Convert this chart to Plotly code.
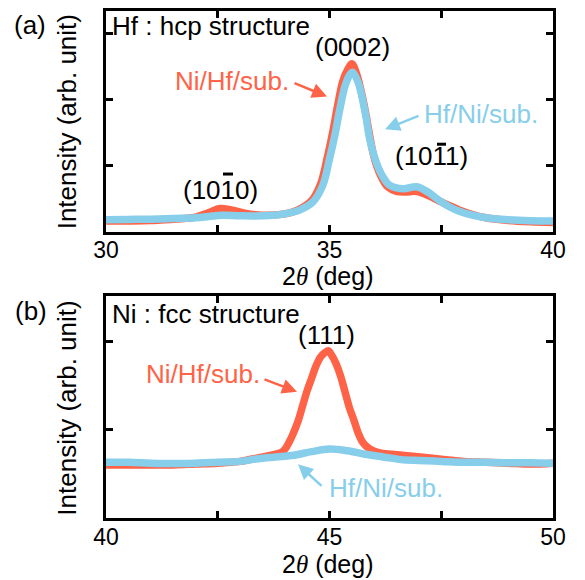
import plotly.graph_objects as go

# ---- Panel (a): Hf hcp reflections, 2theta = 30-40 deg ----
tth_a_nihf = [30.0, 31.0, 32.0, 32.3, 32.55, 32.8, 33.1, 33.5, 34.0, 34.3, 34.6, 34.8,
              34.95, 35.07, 35.18, 35.3, 35.42, 35.5, 35.6, 35.7, 35.8, 35.9, 36.0,
              36.15, 36.3, 36.5, 36.7, 36.9, 37.1, 37.3, 37.5, 37.7, 37.9, 38.2, 38.5,
              39.0, 39.5, 40.0]
int_a_nihf = [0.16, 0.17, 0.22, 0.29, 0.35, 0.33, 0.28, 0.25, 0.27, 0.33, 0.47, 0.72,
              1.12, 1.50, 1.90, 2.28, 2.47, 2.54, 2.40, 2.15, 1.83, 1.45, 1.12,
              0.84, 0.68, 0.61, 0.60, 0.61, 0.58, 0.52, 0.45, 0.39, 0.33, 0.26, 0.21,
              0.17, 0.15, 0.14]

tth_a_hfni = [30.0, 30.5, 31.0, 31.5, 32.0, 32.3, 32.6, 33.0, 33.5, 34.0, 34.34, 34.63,
              34.85, 35.0, 35.12, 35.23, 35.35, 35.46, 35.52, 35.64, 35.8, 35.9, 36.02,
              36.17, 36.35, 36.65, 36.95, 37.2, 37.5, 37.7, 37.9, 38.2, 38.5, 39.0,
              39.5, 40.0]
int_a_hfni = [0.18, 0.185, 0.19, 0.20, 0.21, 0.23, 0.25, 0.24, 0.24, 0.27, 0.33, 0.45,
              0.70, 1.10, 1.46, 1.85, 2.21, 2.38, 2.41, 2.26, 1.80, 1.40, 1.10,
              0.86, 0.70, 0.65, 0.68, 0.60, 0.45, 0.37, 0.31, 0.25, 0.21, 0.18,
              0.165, 0.16]

# ---- Panel (b): Ni fcc (111) reflection, 2theta = 40-50 deg ----
tth_b_nihf = [40.0, 40.5, 41.0, 41.5, 42.0, 42.5, 43.0, 43.4, 43.7, 43.95, 44.1, 44.2,
              44.3, 44.4, 44.5, 44.6, 44.7, 44.8, 44.9, 44.97, 45.05, 45.15, 45.25,
              45.35, 45.45, 45.55, 45.65, 45.75, 45.9, 46.1, 46.4, 46.8, 47.2, 47.6,
              48.0, 48.5, 49.0, 49.5, 50.0]
int_b_nihf = [0.60, 0.60, 0.60, 0.60, 0.61, 0.62, 0.64, 0.68, 0.71, 0.75, 0.86, 0.97,
              1.10, 1.27, 1.44, 1.58, 1.72, 1.82, 1.87, 1.89, 1.84, 1.74, 1.60,
              1.42, 1.24, 1.10, 0.95, 0.85, 0.78, 0.74, 0.72, 0.70, 0.68, 0.66,
              0.64, 0.63, 0.62, 0.61, 0.62]

tth_b_hfni = [40.0, 40.5, 41.0, 41.5, 42.0, 42.5, 43.0, 43.4, 43.8, 44.2, 44.6, 45.0,
              45.4, 45.8, 46.2, 46.6, 47.0, 47.5, 48.0, 48.5, 49.0, 49.5, 50.0]
int_b_hfni = [0.63, 0.63, 0.62, 0.615, 0.62, 0.63, 0.64, 0.67, 0.69, 0.71, 0.75, 0.78,
              0.76, 0.72, 0.69, 0.66, 0.65, 0.64, 0.63, 0.63, 0.625, 0.625, 0.62]

# axis ticks
xticks_a = [30, 32.5, 35, 37.5, 40]
xlabels_a = ["30", "", "35", "", "40"]
xticks_b = [40, 42.5, 45, 47.5, 50]
xlabels_b = ["40", "", "45", "", "50"]
yticks_a = [1, 2, 3]
yticks_b = [1, 2]

RED = "#FF6347"
BLUE = "#87CEEB"
FONT = "Liberation Sans, Arial, sans-serif"

W, H = 585, 580
ML, MR, MT, MB = 106, 32, 8, 62
PW, PH = W - ML - MR, H - MT - MB


def px(x):
    return (x - ML) / PW


def py(y):
    return (H - MB - y) / PH


fig = go.Figure()
line_w = 7.5
fig.add_trace(go.Scatter(x=tth_a_nihf, y=int_a_nihf, mode="lines",
                         line=dict(color=RED, width=line_w, shape="spline"),
                         xaxis="x", yaxis="y", showlegend=False))
fig.add_trace(go.Scatter(x=tth_a_hfni, y=int_a_hfni, mode="lines",
                         line=dict(color=BLUE, width=line_w, shape="spline"),
                         xaxis="x", yaxis="y", showlegend=False))
fig.add_trace(go.Scatter(x=tth_b_nihf, y=int_b_nihf, mode="lines",
                         line=dict(color=RED, width=line_w, shape="spline"),
                         xaxis="x2", yaxis="y2", showlegend=False))
fig.add_trace(go.Scatter(x=tth_b_hfni, y=int_b_hfni, mode="lines",
                         line=dict(color=BLUE, width=line_w, shape="spline"),
                         xaxis="x2", yaxis="y2", showlegend=False))

axis_common = dict(showline=True, linecolor="black", linewidth=3, mirror="ticks",
                   ticks="inside", ticklen=7, tickwidth=2.5, tickcolor="black",
                   showgrid=False, zeroline=False,
                   tickfont=dict(family=FONT, size=23, color="black"))

dom_a = [py(230), 1.0]
dom_b = [0.0, py(295)]

fig.update_layout(
    width=W, height=H,
    margin=dict(l=ML, r=MR, t=MT, b=MB),
    paper_bgcolor="white", plot_bgcolor="white",
    xaxis=dict(domain=[0, 1], range=[30, 40], anchor="y", ticklabelstandoff=-4,
               tickvals=xticks_a, ticktext=xlabels_a, **axis_common),
    yaxis=dict(domain=dom_a, range=[0, 3.338], anchor="x",
               tickvals=yticks_a, showticklabels=False, **axis_common),
    xaxis2=dict(domain=[0, 1], range=[40, 50], anchor="y2", ticklabelstandoff=-4,
                tickvals=xticks_b, ticktext=xlabels_b, **axis_common),
    yaxis2=dict(domain=dom_b, range=[0, 2.506], anchor="x2",
                tickvals=yticks_b, showticklabels=False, **axis_common),
)

TS = 26
anns = []
shapes = []


def text(x, y, s, color="black", xanchor="center", size=TS, angle=0):
    anns.append(dict(x=px(x), y=py(y), xref="paper", yref="paper", text=s,
                     showarrow=False, xanchor=xanchor, yanchor="middle",
                     textangle=angle,
                     font=dict(family=FONT, size=size, color=color)))


def arrow(tx, ty, hx, hy, color):
    anns.append(dict(x=px(hx), y=py(hy), xref="paper", yref="paper", text="",
                     showarrow=True, ax=tx - hx, ay=ty - hy,
                     arrowhead=2, arrowsize=1.2, arrowwidth=2.5,
                     arrowcolor=color, standoff=0, startstandoff=0))


def overbar(x0, x1, y):
    # bar over a Miller index (negative index notation)
    shapes.append(dict(type="line", xref="paper", yref="paper",
                       x0=px(x0), x1=px(x1), y0=py(y), y1=py(y),
                       line=dict(color="black", width=3)))


theta = "2<span style='font-family:Liberation Serif'><i>θ</i></span> (deg)"

# panel (a)
text(30, 22, "(a)")
text(110, 23, "Hf : hcp structure", xanchor="left")
text(352, 44, "(0002)")
text(232, 78, "Ni/Hf/sub.", color=RED)
arrow(293, 80, 327, 94, RED)
text(481, 112, "Hf/Ni/sub.", color=BLUE)
arrow(420, 113, 385, 127, BLUE)
text(220, 188, "(1010)")
overbar(223, 233, 172)
text(431, 154, "(1011)")
overbar(437, 446, 142)
text(328, 275, theta, size=25)
text(67, 120, "Intensity (arb. unit)", angle=-90)

# panel (b)
text(31, 310, "(b)")
text(110, 313, "Ni : fcc structure", xanchor="left")
text(326, 334, "(111)")
text(203, 373, "Ni/Hf/sub.", color=RED)
arrow(263, 378, 297, 391, RED)
text(386, 488, "Hf/Ni/sub.", color=BLUE)
arrow(323, 487, 298, 464, BLUE)
text(328, 564, theta, size=25)
text(67, 408, "Intensity (arb. unit)", angle=-90)

fig.update_layout(annotations=anns, shapes=shapes)
fig.write_html("out.html")
